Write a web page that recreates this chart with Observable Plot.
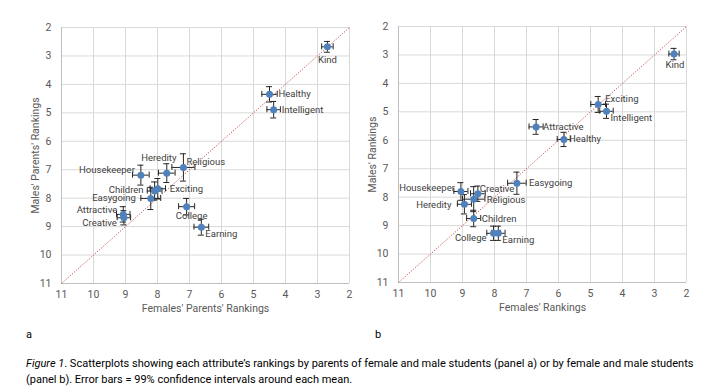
<!DOCTYPE html>
<html><head><meta charset="utf-8">
<script src="https://cdn.jsdelivr.net/npm/d3@7"></script>
<script src="https://cdn.jsdelivr.net/npm/@observablehq/plot@0.6"></script>
<style>
body{margin:0;background:#fff;}
#wrap{position:relative;width:714px;height:392px;overflow:hidden;background:#fff;font-family:Roboto,sans-serif;}
.panel{position:absolute;top:0;}
.tag{position:absolute;top:328px;font-size:11px;color:#000;}
.cap{position:absolute;left:26px;top:356px;width:686px;font-size:11px;line-height:16px;color:#000;}
</style></head><body>
<div id="wrap">
  <div class="panel" id="pa" style="left:0"></div>
  <div class="panel" id="pb" style="left:357px"></div>
  <div class="tag" style="left:26px">a</div>
  <div class="tag" style="left:375px">b</div>
  <div class="cap"><i>Figure 1</i>. Scatterplots showing each attribute’s rankings by parents of female and male students (panel a) or by female and male students (panel b). Error bars = 99% confidence intervals around each mean.</div>
</div>
<script>
// ---- data ----
const attributes = ["Kind","Healthy","Intelligent","Heredity","Religious","Housekeeper","Exciting","Children","Easygoing","Attractive","Creative","College","Earning"];
const rankTicks = [2,3,4,5,6,7,8,9,10,11];
const diagonal = [11, 2];

// panel a: parents' rankings
const femalesParents   = [2.69, 4.50, 4.37, 7.71, 7.19, 8.52, 7.99, 8.09, 8.21, 9.07, 9.05, 7.09, 6.63];
const malesParents     = [2.68, 4.35, 4.89, 7.12, 6.92, 7.19, 7.67, 7.75, 8.01, 8.57, 8.69, 8.30, 9.02];
const femalesParentsCI = [0.18, 0.24, 0.21, 0.26, 0.36, 0.26, 0.24, 0.23, 0.31, 0.21, 0.21, 0.25, 0.23];
const malesParentsCI   = [0.19, 0.27, 0.29, 0.33, 0.48, 0.35, 0.36, 0.32, 0.39, 0.27, 0.25, 0.29, 0.28];

// panel b: students' own rankings
const femalesOwn   = [2.39, 5.83, 4.50, 8.94, 8.65, 9.05, 4.76, 8.65, 7.30, 6.70, 8.52, 8.03, 7.88];
const malesOwn     = [2.97, 5.97, 4.98, 8.25, 8.07, 7.80, 4.74, 8.75, 7.51, 5.53, 7.88, 9.27, 9.27];
const femalesOwnCI = [0.16, 0.21, 0.21, 0.22, 0.35, 0.22, 0.23, 0.22, 0.29, 0.22, 0.23, 0.21, 0.21];
const malesOwnCI   = [0.20, 0.25, 0.25, 0.34, 0.44, 0.31, 0.28, 0.29, 0.39, 0.26, 0.27, 0.25, 0.25];

// ---- layout: label placement per attribute [anchor, dx, dy] ----
const placeA = [["middle",0,13],["start",9,0],["start",8,0],["middle",-8,-15],["start",3,-5],["end",-6,-5],["start",12,0],["end",-11,-1],["end",-15,0],["end",-6,-4],["end",-7,5],["middle",5,9],["start",4,7]];
const placeB = [["middle",1,11],["start",5,0],["start",4,7],["end",-13,1],["start",13,1],["end",-6,-4],["start",7,-5],["start",8,0],["start",12,0],["start",7,0],["start",2,-5],["end",-7,5],["start",4,7]];

const FONT = 'Roboto, sans-serif';

function panel({fx, fy, ex, ey, place, xLabel, yLabel, ml, mr, mt, mb}) {
  const rows = attributes.map((name, i) => ({name, x: fx[i], y: fy[i], ex: ex[i], ey: ey[i]}));
  const labelMarks = rows.map((r, i) => Plot.text([r], {
    x: "x", y: "y", text: "name", textAnchor: place[i][0], dx: place[i][1], dy: place[i][2],
    fill: "#404040", fontSize: 9.5
  }));
  return Plot.plot({
    width: 357, height: 320,
    marginLeft: ml, marginRight: mr, marginTop: mt, marginBottom: mb,
    style: {fontFamily: FONT, fontSize: "10px", color: "#595959", background: "transparent", overflow: "visible"},
    x: {domain: [11, 2]},
    y: {domain: [11, 2]},
    marks: [
      Plot.gridX(rankTicks, {stroke: "#d9d9d9", strokeOpacity: 1}),
      Plot.gridY(rankTicks, {stroke: "#d9d9d9", strokeOpacity: 1}),
      Plot.ruleX([diagonal[0]], {stroke: "#bfbfbf"}),
      Plot.ruleY([diagonal[0]], {stroke: "#bfbfbf"}),
      Plot.axisX(rankTicks, {tickSize: 0, tickPadding: 7, label: xLabel, labelArrow: "none", labelAnchor: "center", labelOffset: 28, fontSize: 10.5, color: "#595959"}),
      Plot.axisY(rankTicks, {tickSize: 0, tickPadding: 10, label: yLabel, labelArrow: "none", labelAnchor: "center", labelOffset: 30, fontSize: 10.5, color: "#595959"}),
      Plot.link([diagonal], {x1: d => d[0], y1: d => d[0], x2: d => d[1], y2: d => d[1], stroke: "#c0504d", strokeWidth: 1, strokeDasharray: "1.2,1.6"}),
      // horizontal error bars
      Plot.ruleY(rows, {y: "y", x1: d => d.x - d.ex, x2: d => d.x + d.ex, stroke: "#262626", strokeWidth: 1}),
      Plot.ruleX(rows, {x: d => d.x - d.ex, y1: "y", y2: "y", insetTop: -3, insetBottom: -3, stroke: "#262626"}),
      Plot.ruleX(rows, {x: d => d.x + d.ex, y1: "y", y2: "y", insetTop: -3, insetBottom: -3, stroke: "#262626"}),
      // vertical error bars
      Plot.ruleX(rows, {x: "x", y1: d => d.y - d.ey, y2: d => d.y + d.ey, stroke: "#262626", strokeWidth: 1}),
      Plot.ruleY(rows, {y: d => d.y - d.ey, x1: "x", x2: "x", insetLeft: -3, insetRight: -3, stroke: "#262626"}),
      Plot.ruleY(rows, {y: d => d.y + d.ey, x1: "x", x2: "x", insetLeft: -3, insetRight: -3, stroke: "#262626"}),
      Plot.dot(rows, {x: "x", y: "y", r: 3.5, fill: "#4f81bd", stroke: "none"}),
      ...labelMarks
    ]
  });
}

document.getElementById("pa").append(panel({
  fx: femalesParents, fy: malesParents, ex: femalesParentsCI, ey: malesParentsCI, place: placeA,
  xLabel: "Females' Parents' Rankings", yLabel: "Males' Parents' Rankings",
  ml: 61, mr: 8, mt: 27, mb: 37
}));
document.getElementById("pb").append(panel({
  fx: femalesOwn, fy: malesOwn, ex: femalesOwnCI, ey: malesOwnCI, place: placeB,
  xLabel: "Females' Rankings", yLabel: "Males' Rankings",
  ml: 41, mr: 28, mt: 26, mb: 38
}));
</script>
</body></html>
